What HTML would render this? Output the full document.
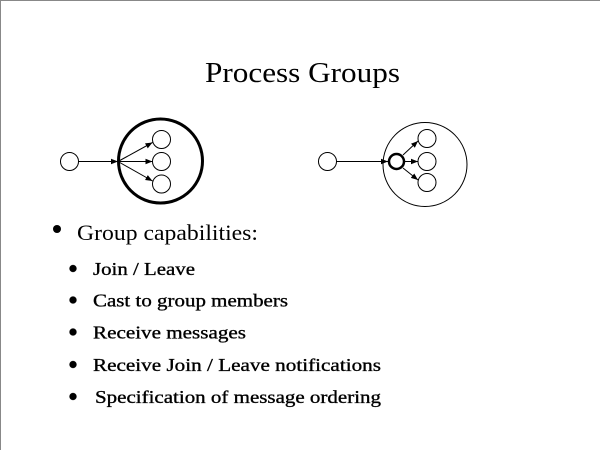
<!DOCTYPE html>
<html><head><style>html,body{margin:0;padding:0;background:#fff}svg{display:block}</style></head>
<body>
<svg width="600" height="450" viewBox="0 0 600 450" xmlns="http://www.w3.org/2000/svg" font-family="'Liberation Serif', serif">
<defs>
<marker id="a" viewBox="0 0 10 10" refX="10" refY="5" markerWidth="7" markerHeight="7" orient="auto" markerUnits="userSpaceOnUse"><path d="M0,1 L10,5 L0,9 z" fill="#000"/></marker>
</defs>
<rect x="0" y="0" width="600" height="450" fill="#fff"/>
<line x1="0.5" y1="0" x2="0.5" y2="450" stroke="#888"/>
<line x1="0" y1="0.5" x2="600" y2="0.5" stroke="#888"/>
<text x="205" y="82" font-size="29" textLength="195" lengthAdjust="spacingAndGlyphs">Process Groups</text>

<circle cx="69.5" cy="161.5" r="9" fill="none" stroke="#000"/>
<circle cx="160.5" cy="161" r="42" fill="none" stroke="#000" stroke-width="3"/>
<circle cx="161.5" cy="139.5" r="9" fill="none" stroke="#000"/>
<circle cx="161.5" cy="161.5" r="9" fill="none" stroke="#000"/>
<circle cx="161.5" cy="184" r="9" fill="none" stroke="#000"/>
<line x1="78.5" y1="161.5" x2="118" y2="161.5" stroke="#000" marker-end="url(#a)"/>
<line x1="118" y1="161.5" x2="152.5" y2="142.5" stroke="#000" marker-end="url(#a)"/>
<line x1="118" y1="161.5" x2="152.5" y2="161.5" stroke="#000" marker-end="url(#a)"/>
<line x1="118" y1="161.5" x2="152.5" y2="181" stroke="#000" marker-end="url(#a)"/>

<circle cx="327.5" cy="161.5" r="9" fill="none" stroke="#000"/>
<circle cx="425" cy="164.5" r="42" fill="none" stroke="#000"/>
<circle cx="396.5" cy="161.5" r="7.5" fill="none" stroke="#000" stroke-width="2.5"/>
<circle cx="427" cy="138.5" r="9" fill="none" stroke="#000"/>
<circle cx="427" cy="161.5" r="9" fill="none" stroke="#000"/>
<circle cx="427" cy="182.5" r="9" fill="none" stroke="#000"/>
<line x1="336.5" y1="161.5" x2="388" y2="161.5" stroke="#000" marker-end="url(#a)"/>
<line x1="403" y1="155" x2="418" y2="141" stroke="#000" marker-end="url(#a)"/>
<line x1="404" y1="161.5" x2="418" y2="161.5" stroke="#000" marker-end="url(#a)"/>
<line x1="403" y1="168" x2="418" y2="180" stroke="#000" marker-end="url(#a)"/>

<circle cx="57" cy="229" r="4" fill="#000"/>
<text x="77" y="240" font-size="22" textLength="181" lengthAdjust="spacingAndGlyphs">Group capabilities:</text>
<g font-size="18" stroke="#000" stroke-width="0.35">
<circle cx="73" cy="268.5" r="3.5" fill="#000"/>
<text x="93" y="275" textLength="102" lengthAdjust="spacingAndGlyphs">Join / Leave</text>
<circle cx="73" cy="300" r="3.5" fill="#000"/>
<text x="93" y="306.5" textLength="195" lengthAdjust="spacingAndGlyphs">Cast to group members</text>
<circle cx="73" cy="332" r="3.5" fill="#000"/>
<text x="93" y="338.5" textLength="153" lengthAdjust="spacingAndGlyphs">Receive messages</text>
<circle cx="73" cy="364.5" r="3.5" fill="#000"/>
<text x="93" y="371" textLength="288" lengthAdjust="spacingAndGlyphs">Receive Join / Leave notifications</text>
<circle cx="73" cy="396.5" r="3.5" fill="#000"/>
<text x="95" y="403" textLength="286" lengthAdjust="spacingAndGlyphs">Specification of message ordering</text>
</g>
</svg>
</body></html>
